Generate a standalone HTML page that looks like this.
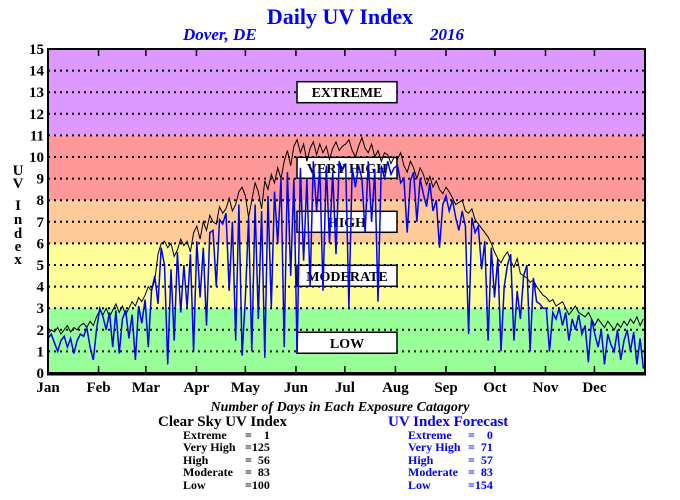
<!DOCTYPE html>
<html><head><meta charset="utf-8"><style>
body{margin:0;background:#fff}
svg{display:block;font-family:"Liberation Serif",serif;font-weight:bold}
text{white-space:pre}
</style></head><body>
<svg id="chart" width="680" height="500" viewBox="0 0 680 500">
<text x="340" y="24" text-anchor="middle" font-size="22" fill="#0000ff">Daily UV Index</text>
<text x="183" y="40" font-size="17" font-style="italic" fill="#0000ff">Dover, DE</text>
<text x="430" y="40" font-size="17" font-style="italic" fill="#0000ff">2016</text>
<g id="bands"></g>
<g id="grid"></g>
<g id="boxes"></g>
<g id="series"></g>
<g id="axes"></g>
<g font-size="15" text-anchor="middle">
<text x="18" y="175">U</text><text x="18" y="188">V</text>
<text x="18" y="210">I</text><text x="18" y="224">n</text><text x="18" y="238">d</text><text x="18" y="251">e</text><text x="18" y="264">x</text>
</g>
<text x="340" y="411" text-anchor="middle" font-size="14" font-style="italic">Number of Days in Each Exposure Catagory</text>
<g>
<text x="158" y="426" font-size="15">Clear Sky UV Index</text>
<g font-size="12">
<text x="183" y="439">Extreme</text><text x="245" y="439">=    1</text>
<text x="183" y="451">Very High</text><text x="245" y="451">=125</text>
<text x="183" y="464">High</text><text x="245" y="464">=  56</text>
<text x="183" y="476">Moderate</text><text x="245" y="476">=  83</text>
<text x="183" y="489">Low</text><text x="245" y="489">=100</text>
</g></g>
<g fill="#0000ff">
<text x="388" y="426" font-size="15">UV Index Forecast</text>
<g font-size="12">
<text x="408" y="439">Extreme</text><text x="468" y="439">=    0</text>
<text x="408" y="451">Very High</text><text x="468" y="451">=  71</text>
<text x="408" y="464">High</text><text x="468" y="464">=  57</text>
<text x="408" y="476">Moderate</text><text x="468" y="476">=  83</text>
<text x="408" y="489">Low</text><text x="468" y="489">=154</text>
</g></g>
</svg>
<script>
const months=["Jan","Feb","Mar","Apr","May","Jun","Jul","Aug","Sep","Oct","Nov","Dec"];
const monthStartDays=[0,31,60,91,121,152,182,213,244,274,305,335];
const yTicks=[0,1,2,3,4,5,6,7,8,9,10,11,12,13,14,15];
const bandLimits=[0,3,6,8,11,15];
const bandColors=["#99ff99","#ffff99","#ffcc99","#ff9999","#dd99ff"];
const categories=["LOW","MODERATE","HIGH","VERY HIGH","EXTREME"];
const categoryLevels=[1.4,4.5,7.0,9.5,13.0];
const clearSky=[1.8,2.0,1.9,2.1,1.8,2.0,2.2,1.9,2.1,2.0,2.2,2.3,2.1,2.4,2.2,2.6,
2.9,2.7,3.0,2.6,2.9,3.2,2.8,3.1,2.7,3.0,3.3,3.1,3.5,3.3,
3.6,4.0,3.8,4.3,5.5,6.0,6.1,5.8,6.0,5.4,5.7,6.2,5.9,6.1,5.6,6.5,
6.8,6.2,7.0,6.6,7.3,7.0,6.9,7.7,7.4,7.6,8.1,7.5,7.8,8.4,8.6,
8.2,7.2,8.0,8.8,8.4,7.6,8.9,8.5,9.2,8.8,9.5,9.0,9.8,10.3,9.6,10.5,
10.8,10.2,10.6,9.8,10.4,10.7,10.1,10.6,10.2,10.5,9.9,10.4,10.7,10.3,10.5,
10.6,10.8,10.3,10.0,10.5,10.9,10.4,10.2,10.6,10.0,10.3,9.8,10.2,10.1,9.7,10.0,
9.9,10.2,9.6,9.3,9.8,9.5,9.0,9.5,9.2,8.7,9.1,8.6,8.9,8.5,8.3,
8.6,8.4,8.1,7.8,7.9,8.0,7.5,7.4,7.6,7.1,6.9,6.7,6.5,6.3,6.0,
5.6,5.3,5.1,5.4,5.6,5.2,4.9,5.3,4.6,4.5,4.4,4.2,4.3,4.0,3.8,3.6,
3.5,3.3,3.4,3.1,3.2,3.3,3.0,2.7,2.9,3.1,2.8,2.7,2.6,2.8,2.5,
2.2,2.5,2.3,2.1,2.4,2.2,2.0,2.3,2.1,2.4,2.2,2.5,2.3,2.6,2.2,2.5];
const forecast=[1.6,1.8,1.4,1.0,1.5,1.7,1.2,1.6,0.9,1.5,1.8,1.7,2.1,1.2,0.6,2.0,
3.0,2.6,2.0,2.8,1.2,2.9,0.9,2.5,2.9,1.6,2.7,0.6,3.1,2.3,
3.4,1.2,3.8,4.5,3.2,5.8,5.0,0.4,4.8,1.5,5.6,2.8,5.0,3.0,5.5,1.0,
6.1,3.5,5.8,2.2,6.5,6.6,4.0,7.1,6.9,7.4,3.8,7.0,1.5,7.8,0.8,
3.5,7.2,1.0,7.8,2.5,7.5,0.7,8.2,3.0,8.4,6.0,9.0,1.2,9.3,4.5,9.0,
0.9,9.5,5.2,9.0,4.0,9.8,7.5,9.5,3.8,9.6,6.0,9.3,5.5,9.8,9.4,
9.7,3.0,9.5,8.6,9.6,9.0,6.5,9.8,7.0,9.4,3.3,9.6,9.0,9.8,9.2,9.5,
9.6,8.8,9.0,6.5,8.9,9.3,7.0,9.0,8.3,7.7,8.8,7.5,8.0,5.8,7.8,
8.2,7.5,8.0,7.2,6.6,7.5,6.8,1.8,7.2,6.5,6.8,4.8,6.1,1.5,5.8,
3.5,5.3,1.0,4.0,5.0,5.5,1.5,3.8,2.5,4.5,5.0,1.0,4.4,3.3,3.2,3.0,
3.0,1.0,2.8,2.5,3.0,2.2,2.8,1.5,2.5,2.0,2.7,1.8,2.2,0.5,2.5,
1.8,1.2,2.0,0.4,1.8,1.3,1.0,2.0,0.6,1.5,2.0,1.0,1.9,0.4,1.6,0.2];

const X0=48,X1=645,Y0=373,Y1=49,DAYS=366;
const xDay=d=>X0+d/DAYS*(X1-X0);
const yVal=v=>Y0-v/15*(Y0-Y1);
const NS="http://www.w3.org/2000/svg";
function mk(tag,attrs,parent){const e=document.createElementNS(NS,tag);for(const k in attrs)e.setAttribute(k,attrs[k]);parent.appendChild(e);return e;}

const bands=document.getElementById('bands');
for(let i=0;i<bandColors.length;i++){
  const r=mk('rect',{x:X0,y:yVal(bandLimits[i+1]),width:X1-X0,height:yVal(bandLimits[i])-yVal(bandLimits[i+1]),fill:bandColors[i]},bands);
  
  
}
const grid=document.getElementById('grid');
yTicks.forEach(t=>{
  if(t>0&&t<15){
    const l=mk('line',{x1:X0,x2:X1,y1:yVal(t),y2:yVal(t),stroke:'#000','stroke-width':2,'stroke-dasharray':'2,4'},grid);
    
    
  }
});
const boxes=document.getElementById('boxes');
categories.forEach((c,i)=>{
  const y=yVal(categoryLevels[i]);
  const r=mk('rect',{x:297,y:y-10.5,width:100,height:21,fill:'#fff',stroke:'#000','stroke-width':1.5},boxes);
  
  
  const t=mk('text',{x:347,y:y+5,'text-anchor':'middle','font-size':14},boxes);
  t.textContent=c;
  
  
});
const series=document.getElementById('series');
function pathFor(arr){const n=arr.length;return arr.map((v,i)=>(i?'L':'M')+xDay(i*(DAYS-1)/(n-1)).toFixed(1)+','+yVal(v).toFixed(1)).join('');}
const pc=mk('path',{d:pathFor(clearSky),fill:'none',stroke:'#000','stroke-width':1},series);


const pf=mk('path',{d:pathFor(forecast),fill:'none',stroke:'#0000ff','stroke-width':1.5},series);



const axes=document.getElementById('axes');
const fr=mk('rect',{x:X0,y:Y1,width:X1-X0,height:Y0-Y1,fill:'none',stroke:'#000','stroke-width':2},axes);


const bl=mk('line',{x1:X0-1,x2:X1+1,y1:Y0+1,y2:Y0+1,stroke:'#000','stroke-width':3},axes);


yTicks.forEach(t=>{
  const tx=mk('text',{x:44,y:yVal(t)+5,'text-anchor':'end','font-size':15},axes);
  tx.textContent=t;
  
  
});
months.forEach((m,i)=>{
  const x=xDay(monthStartDays[i]);
  if(i>0){
    const a=mk('line',{x1:x,x2:x,y1:Y1,y2:Y1+7,stroke:'#000','stroke-width':1.5},axes);
    
    
    const b=mk('line',{x1:x,x2:x,y1:Y0,y2:Y0-7,stroke:'#000','stroke-width':1.5},axes);
    
    
  }
  const t=mk('text',{x:x,y:392,'text-anchor':'middle','font-size':15},axes);
  t.textContent=m;
  
  
});
</script>
</body></html>
